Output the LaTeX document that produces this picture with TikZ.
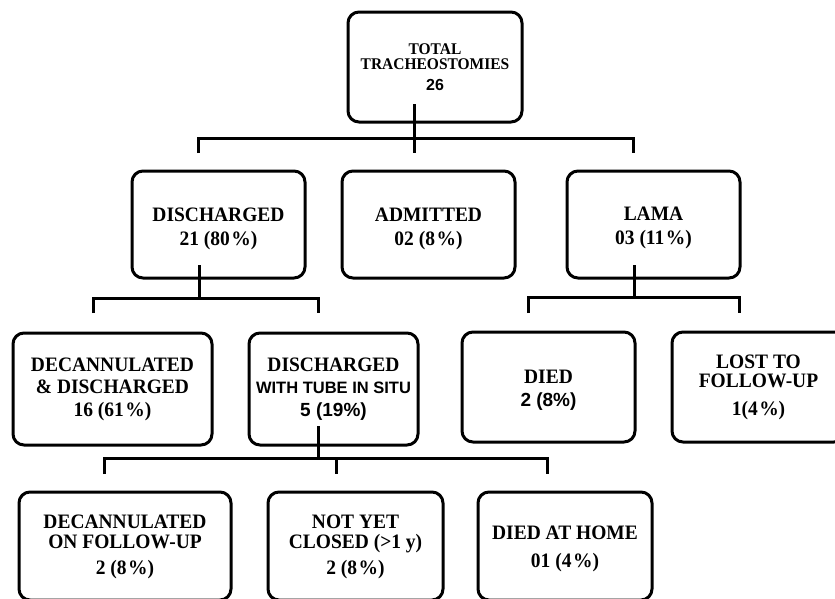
\documentclass[tikz,border=0pt]{standalone}
\usepackage{fontspec}
\setmainfont{Liberation Serif}[FakeStretch=0.95]
\newfontfamily\arialf{Liberation Sans}
\newcommand\tstrut[1]{\rule{0pt}{#1}}
\newcommand\pc{\kern1.5pt\%}
\begin{document}
\begin{tikzpicture}[x=1pt,y=-1pt,
  box/.style={draw, line width=3pt, rounded corners=11pt, align=center, inner sep=0pt,
    font=\fontsize{20.5}{24}\selectfont\bfseries},
  conn/.style={line width=3pt}]
\useasboundingbox (0,0) rectangle (835,598);
\fill[white] (0,0) rectangle (835,598);
% row 1
\node[box, minimum width=174pt, minimum height=110pt, font=\fontsize{16.3}{15.5}\selectfont\bfseries] (top) at (435,67)
  {TOTAL\\TRACHEOSTOMIES\\[5.5pt]{\arialf\fontsize{16}{16}\selectfont 26}};
% row 2
\node[box, minimum width=173pt, minimum height=107pt] (dis) at (218.5,224.5) {\tstrut{21.5pt}DISCHARGED\\21 (80\pc)};
\node[box, minimum width=173pt, minimum height=107pt] (adm) at (428.5,224.5) {\tstrut{21.5pt}ADMITTED\\02 (8\pc)};
\node[box, minimum width=173pt, minimum height=107pt] (lama) at (653.5,224.5) {\tstrut{20pt}LAMA\\03 (11\pc)};
% row 3
\node[box, minimum width=199pt, minimum height=112pt, font=\fontsize{20.5}{22}\selectfont\bfseries] (dec) at (112.5,389) {DECANNULATED\\\& DISCHARGED\\[1pt]16 (61\pc)};
\node[box, minimum width=169pt, minimum height=112pt, font=\fontsize{20.5}{22}\selectfont\bfseries] (tube) at (333.5,389)
  {DISCHARGED\\{\arialf\fontsize{16.5}{22}\selectfont WITH TUBE IN SITU}\\[1pt]{\arialf\fontsize{19}{22}\selectfont 5 (19\%)}};
\node[box, minimum width=173pt, minimum height=110pt, font=\fontsize{20.5}{23}\selectfont\bfseries] (died) at (548.5,387) {\tstrut{19.5pt}DIED\\{\arialf\fontsize{19}{23}\selectfont 2 (8\%)}};
\node[box, minimum width=173pt, minimum height=110pt, font=\fontsize{20.5}{19.5}\selectfont\bfseries] (lost) at (758.5,387)
  {LOST TO\\FOLLOW-UP\\[8pt]1(4\pc)};
% row 4
\node[box, minimum width=212pt, minimum height=108pt, font=\fontsize{20.5}{20}\selectfont\bfseries] (fol) at (125,546)
  {\tstrut{16pt}DECANNULATED\\ON FOLLOW-UP\\[6pt]2 (8\pc)};
\node[box, minimum width=175pt, minimum height=108pt, font=\fontsize{20.5}{20}\selectfont\bfseries] (nyc) at (355.5,546)
  {\tstrut{16pt}NOT YET\\CLOSED (>1 y)\\[6pt]2 (8\pc)};
\node[box, minimum width=174pt, minimum height=108pt, font=\fontsize{20.5}{28}\selectfont\bfseries] (dah) at (565,546)
  {\tstrut{19.5pt}DIED AT HOME\\01 (4\pc)};
% connectors
\coordinate (topS) at (414,104);
\coordinate (admT) at (414,153);
\coordinate (disT) at (198,153);
\coordinate (disJ) at (198,138);
\coordinate (lamaJ) at (633,138);
\coordinate (lamaT) at (633,153);
\draw[conn] (topS) -- (admT);
\draw[conn] (disT) -- (disJ) -- (lamaJ) -- (lamaT);

\coordinate (disS) at (199,265);
\coordinate (disB) at (199,298);
\coordinate (decT) at (93,313);
\coordinate (decJ) at (93,298);
\coordinate (tubeJ) at (318,298);
\coordinate (tubeT) at (318,313);
\draw[conn] (disS) -- (disB);
\draw[conn] (decT) -- (decJ) -- (tubeJ) -- (tubeT);

\coordinate (lamaS) at (634,265);
\coordinate (lamaB) at (634,297);
\coordinate (diedT) at (528,313);
\coordinate (diedJ) at (528,297);
\coordinate (lostJ) at (739,297);
\coordinate (lostT) at (739,313);
\draw[conn] (lamaS) -- (lamaB);
\draw[conn] (diedT) -- (diedJ) -- (lostJ) -- (lostT);

\coordinate (tubeS) at (318,426);
\coordinate (tubeB) at (318,458);
\coordinate (folT) at (104,474);
\coordinate (folJ) at (104,458);
\coordinate (dahJ) at (547,458);
\coordinate (dahT) at (547,474);
\coordinate (nycJ) at (336,458);
\coordinate (nycT) at (336,474);
\draw[conn] (tubeS) -- (tubeB);
\draw[conn] (folT) -- (folJ) -- (dahJ) -- (dahT);
\draw[conn] (nycJ) -- (nycT);
\end{tikzpicture}
\end{document}
